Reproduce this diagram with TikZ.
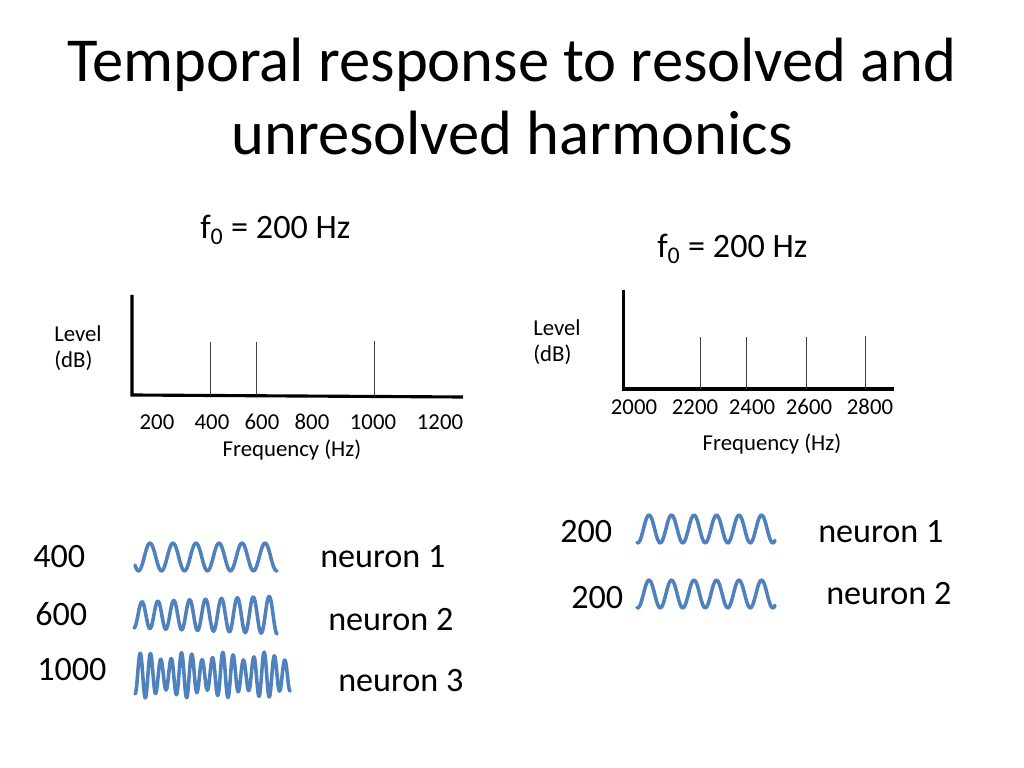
\documentclass[tikz,border=0pt]{standalone}
\usepackage{fontspec}
\setmainfont{Carlito}
\definecolor{wavecol}{HTML}{4F81BD}

\begin{document}
\begin{tikzpicture}[x=0.703125pt, y=-0.703125pt,
    axis/.style={line width=2.2pt},
    harm/.style={line width=0.7pt, black!75},
    wavy/.style={wavecol, line width=2.5pt, line cap=round, line join=round},
    small/.style={inner sep=0pt, font=\fontsize{16}{19}\selectfont},
    big/.style={inner sep=0pt, font=\fontsize{24}{29}\selectfont}]
  \useasboundingbox (0,0) rectangle (1024,768);

  % Title
  \node[anchor=base, inner sep=0pt, font=\fontsize{44}{52}\selectfont] (title1) at (512,82) {Temporal response to resolved and};
  \node[anchor=base, inner sep=0pt, font=\fontsize{44}{52}\selectfont] (title2) at (512,155) {unresolved harmonics};

  % Resolved spectrum
  \node[big, anchor=base west] (fleft) at (200,239) {f\textsubscript{0} = 200 Hz};
  \node[small, anchor=base west] (levl) at (54,341) {Level};
  \node[small, anchor=base west] (dbl) at (54,367) {(dB)};
  \draw[axis] (132,295) -- (132,395) -- (463,397);
  \draw[harm] (210,395) -- (210,342);
  \draw[harm] (256,395) -- (256,342);
  \draw[harm] (374,396) -- (374,341);
  \node[small] (l200) at (157,422) {200};
  \node[small] (l400) at (212,422) {400};
  \node[small] (l600) at (262,422) {600};
  \node[small] (l800) at (312,422) {800};
  \node[small] (l1000) at (373,422) {1000};
  \node[small] (l1200) at (440,422) {1200};
  \node[small, anchor=base] (freql) at (292,456) {Frequency (Hz)};

  % Unresolved spectrum
  \node[big, anchor=base west] (fright) at (657,258) {f\textsubscript{0} = 200 Hz};
  \node[small, anchor=base west] (levr) at (533,335) {Level};
  \node[small, anchor=base west] (dbr) at (533,361) {(dB)};
  \draw[axis] (623.5,290) -- (623.5,389) -- (894,389);
  \draw[harm] (700,389) -- (700,337);
  \draw[harm] (746.5,389) -- (746.5,337);
  \draw[harm] (806,389) -- (806,337);
  \draw[harm] (865.5,389) -- (865.5,336);
  \node[small] (r2000) at (634,407) {2000};
  \node[small] (r2200) at (695,407) {2200};
  \node[small] (r2400) at (752,407) {2400};
  \node[small] (r2600) at (809,407) {2600};
  \node[small] (r2800) at (870,407) {2800};
  \node[small, anchor=base] (freqr) at (772,450) {Frequency (Hz)};

  % Neurons, resolved
  \node[big, anchor=west] (n400) at (33,557) {400};
  \node[big, anchor=west] (n600) at (35,614) {600};
  \node[big, anchor=west] (n1000) at (37,670) {1000};
  \draw[wavy] plot[smooth, domain=135:277, samples=100] (\x, {557-14*sin((\x-144.25)*15.652)});
  \draw[wavy] plot[smooth, domain=134:277, samples=150] (\x, {615-(13+6*(\x-134)/143)*sin((\x-134)*22.642-90)});
  \draw[wavy] plot[smooth, domain=135:290, samples=260] (\x, {675-(19+4*sin((\x-135)*9))*sin((\x-135)*34.85-90)});
  \node[big, anchor=west] (neu1) at (320,557) {neuron 1};
  \node[big, anchor=west] (neu2) at (328,620) {neuron 2};
  \node[big, anchor=west] (neu3) at (338,681) {neuron 3};

  % Neurons, unresolved
  \node[big, anchor=west] (u200a) at (560,532) {200};
  \node[big, anchor=west] (u200b) at (571,598) {200};
  \draw[wavy] plot[smooth, domain=637:775, samples=100] (\x, {529-14*sin((\x-643.4)*16)});
  \draw[wavy] plot[smooth, domain=637:775, samples=100] (\x, {594-14*sin((\x-643.4)*16)});
  \node[big, anchor=west] (un1) at (818,532) {neuron 1};
  \node[big, anchor=west] (un2) at (826,594) {neuron 2};
\end{tikzpicture}
\end{document}
